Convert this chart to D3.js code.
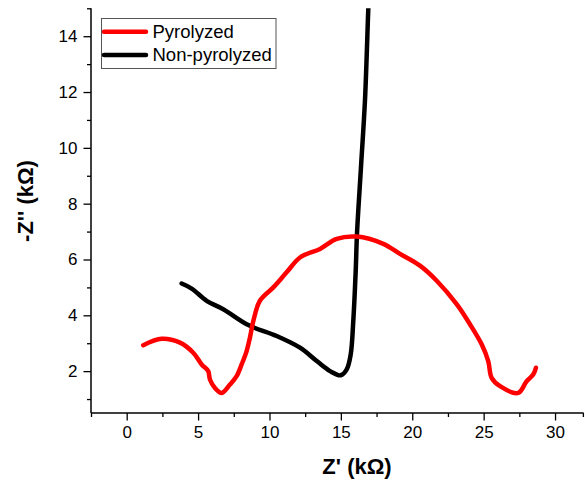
<!DOCTYPE html>
<html>
<head>
<meta charset="utf-8">
<script src="https://cdn.jsdelivr.net/npm/d3@7"></script>
<style>
  html, body { margin: 0; padding: 0; background: #fff; }
  svg { display: block; }
  text { font-family: Arial, "Liberation Sans", sans-serif; fill: #000; }
</style>
</head>
<body>
<svg id="chart" width="585" height="482"></svg>
<script>
// Nyquist data, Z' (kΩ) and -Z'' (kΩ)
const pyrolyzedZre = [1.16, 2.45, 3.73, 4.66, 5.25, 5.71, 5.83, 6.18, 6.65, 7.23, 7.70, 8.05, 8.40, 8.63, 8.87, 9.33, 10.27, 11.20, 12.16, 13.54, 14.71, 16.11, 17.97, 19.14, 20.54, 21.71, 23.11, 24.04, 24.86, 25.32, 25.56, 26.15, 27.42, 28.01, 28.47, 28.66];
const pyrolyzedZim = [2.93, 3.16, 3.02, 2.66, 2.24, 2.00, 1.70, 1.40, 1.22, 1.52, 1.82, 2.24, 2.72, 3.20, 3.80, 4.52, 5.00, 5.54, 6.08, 6.38, 6.74, 6.82, 6.56, 6.20, 5.78, 5.24, 4.40, 3.68, 2.96, 2.36, 1.76, 1.46, 1.22, 1.64, 1.88, 2.12];

const nonPyrolyzedZre = [3.85, 4.55, 5.60, 6.76, 8.52, 10.50, 12.14, 13.31, 14.24, 14.99, 15.41, 15.69, 15.87, 16.04, 16.13, 16.41, 16.69, 16.92, 16.96];
const nonPyrolyzedZim = [5.14, 4.96, 4.52, 4.22, 3.65, 3.26, 2.84, 2.36, 2.00, 1.85, 2.06, 2.60, 3.80, 5.60, 6.93, 9.32, 11.72, 14.96, 15.40];

const xTicks = [0, 5, 10, 15, 20, 25, 30];
const xMinorTicks = [-2.5, 2.5, 7.5, 12.5, 17.5, 22.5, 27.5, 31.95];
const yTicks = [2, 4, 6, 8, 10, 12, 14];
const yMinorTicks = [1, 3, 5, 7, 9, 11, 13, 15];

const seriesNames = ["Pyrolyzed", "Non-pyrolyzed"];
const seriesColors = ["#ff0000", "#000000"];

const svg = d3.select("#chart");
const plotLeft = 91, plotRight = 583.6, plotTop = 8.3, plotBottom = 413;

const x = d3.scaleLinear().domain([-2.5, 32]).range([plotLeft, plotRight]);
const y = d3.scaleLinear().domain([0.5, 15]).range([plotBottom, plotTop]);

// clip region for curves
svg.append("defs").append("clipPath").attr("id", "plotClip")
  .append("rect").attr("x", plotLeft).attr("y", plotTop)
  .attr("width", plotRight - plotLeft).attr("height", plotBottom - plotTop);

// axes with major and minor ticks
const xAxis = d3.axisBottom(x).tickValues(xTicks).tickSize(7.5).tickPadding(5).tickFormat(d3.format("d"));
const yAxis = d3.axisLeft(y).tickValues(yTicks).tickSize(7.5).tickPadding(6).tickFormat(d3.format("d"));

const gx = svg.append("g").attr("transform", `translate(0,${plotBottom})`).call(xAxis);
const gy = svg.append("g").attr("transform", `translate(${plotLeft},0)`).call(yAxis);

svg.append("g").attr("transform", `translate(0,${plotBottom})`)
  .call(d3.axisBottom(x).tickValues(xMinorTicks).tickSize(4).tickFormat(""))
  .call(g => g.select(".domain").remove());
svg.append("g").attr("transform", `translate(${plotLeft},0)`)
  .call(d3.axisLeft(y).tickValues(yMinorTicks).tickSize(4).tickFormat(""))
  .call(g => g.select(".domain").remove());

[gx, gy].forEach(g => {
  g.select(".domain").attr("stroke", "#000").attr("stroke-width", 1.5);
  g.selectAll(".tick text")
    .style("font-family", "Arial, 'Liberation Sans', sans-serif")
    .style("font-size", "17px")
    .attr("fill", "#000");
});
svg.selectAll(".tick line").attr("stroke", "#000").attr("stroke-width", 1.3);
gx.selectAll(".domain").attr("d", `M${plotLeft},0H${plotRight}`);
gy.selectAll(".domain").attr("d", `M0,${plotBottom}V${plotTop}`);

// series curves
const line = d3.line().x(d => x(d[0])).y(d => y(d[1])).curve(d3.curveCatmullRom.alpha(0.5));
const series = [
  d3.zip(pyrolyzedZre, pyrolyzedZim),
  d3.zip(nonPyrolyzedZre, nonPyrolyzedZim)
];
const plot = svg.append("g").attr("clip-path", "url(#plotClip)");
[1, 0].forEach(i => {
  plot.append("path")
    .datum(series[i])
    .attr("d", line)
    .attr("fill", "none")
    .attr("stroke", seriesColors[i])
    .attr("stroke-width", 4.5)
    .attr("stroke-linejoin", "round")
    .attr("stroke-linecap", "round");
});

// axis titles
svg.append("text")
  .attr("x", 357).attr("y", 473.5)
  .attr("text-anchor", "middle")
  .style("font-size", "22px").style("font-weight", "bold")
  .text("Z' (kΩ)");

svg.append("text")
  .attr("transform", "translate(33,201) rotate(-90)")
  .attr("text-anchor", "middle")
  .style("font-size", "22px").style("font-weight", "bold")
  .text("-Z'' (kΩ)");

// legend
const legend = svg.append("g");
legend.append("rect")
  .attr("x", 101.5).attr("y", 18.5).attr("width", 174.5).attr("height", 50)
  .attr("fill", "#fff").attr("stroke", "#555").attr("stroke-width", 1);
seriesNames.forEach((name, i) => {
  const ly = 31.7 + i * 23.3;
  legend.append("line")
    .attr("x1", 104).attr("x2", 146).attr("y1", ly).attr("y2", ly)
    .attr("stroke", seriesColors[i]).attr("stroke-width", 4.5)
    .attr("stroke-linecap", "round");
  legend.append("text")
    .attr("x", 152.5).attr("y", ly + 6)
    .style("font-size", "18.5px")
    .text(name);
});
</script>
</body>
</html>
